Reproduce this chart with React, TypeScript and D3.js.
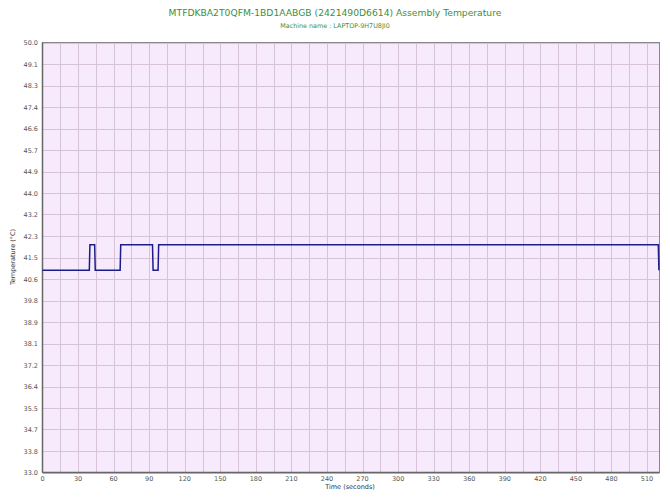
import React from "react";
import * as d3 from "d3";

const times = [0, 39.5, 40, 44, 44.5, 65.5, 66, 92.8, 93.3, 97.5, 98, 519.5, 520];
const temps = [41, 41, 42, 42, 41, 41, 42, 42, 41, 41, 42, 42, 41];
const yTicks = d3.range(0, 21).map((i) => 33 + i * 0.85);
const xTicks = d3.range(0, 511, 30);
const xGrid = d3.range(15, 521, 15);

const W = 670;
const H = 503;
const L = 42.5;
const R = 659.5;
const T = 42.5;
const B = 472.5;

export default function App() {
  const x = d3.scaleLinear().domain([0, 520.5]).range([L, R]);
  const y = d3.scaleLinear().domain([33, 50]).range([B, T]);
  const pts: [number, number][] = times.map((t, i) => [t, temps[i]]);
  const line = d3
    .line<[number, number]>()
    .x((d) => x(d[0]))
    .y((d) => y(d[1]));
  const font = "Verdana, 'DejaVu Sans', sans-serif";
  const fmt = (v: number) => (Math.floor(v * 10 + 1e-6) / 10).toFixed(1);
  return (
    <svg
      width={W}
      height={H}
      style={{ position: "absolute", left: 0, top: 0, background: "#fff" }}
      fontFamily={font}
    >
      <text x={335} y={16} textAnchor="middle" fontSize={9.2} fill="#3c8f3c">
        MTFDKBA2T0QFM-1BD1AABGB (2421490D6614) Assembly Temperature
      </text>
      <text x={335} y={28} textAnchor="middle" fontSize={6.4} fill="#3c8f3c">
        Machine name : LAPTOP-9H7U8JI0
      </text>
      <rect x={L} y={T} width={R - L} height={B - T} fill="#f6eafc" />
      {yTicks.map((v, i) => (
        <line key={"hy" + i} x1={L} x2={R} y1={Math.round(y(v)) + 0.5} y2={Math.round(y(v)) + 0.5} stroke="#d6c3d8" strokeWidth={1} />
      ))}
      {xGrid.map((v, i) => (
        <line key={"vx" + i} x1={Math.round(x(v)) + 0.5} x2={Math.round(x(v)) + 0.5} y1={T} y2={B} stroke="#d6c3d8" strokeWidth={1} />
      ))}
      <rect x={L} y={T} width={R - L} height={B - T} fill="none" stroke="#888" strokeWidth={1} />
      <line x1={L} x2={L} y1={T} y2={B} stroke="#666" strokeWidth={1.5} />
      <line x1={L} x2={R} y1={B} y2={B} stroke="#666" strokeWidth={1.5} />
      {yTicks.map((v, i) => (
        <text key={"yl" + i} x={38} y={y(v) + 2.5} textAnchor="end" fontSize={6.5} fill="#555">
          {fmt(v)}
        </text>
      ))}
      {xTicks.map((v, i) => (
        <text key={"xl" + i} x={x(v)} y={481} textAnchor="middle" fontSize={6.5} fill="#555">
          {v}
        </text>
      ))}
      <text x={350} y={489} textAnchor="middle" fontSize={6.5} fill="#333">
        Time (seconds)
      </text>
      <text
        transform={`translate(15,257) rotate(-90)`}
        textAnchor="middle"
        fontSize={6.5}
        fill="#333"
      >
        Temperature (°C)
      </text>
      <path d={line(pts) || ""} fill="none" stroke="#1c1c8a" strokeWidth={1.5} />
    </svg>
  );
}
